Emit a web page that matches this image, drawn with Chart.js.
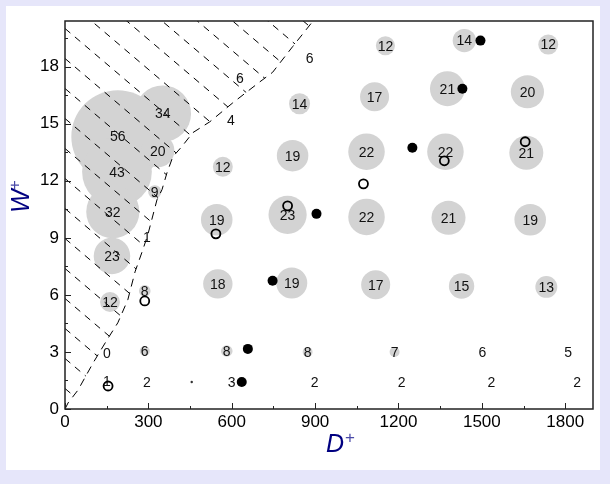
<!DOCTYPE html>
<html>
<head>
<meta charset="utf-8">
<script src="https://cdn.jsdelivr.net/npm/chart.js@4.4.1/dist/chart.umd.min.js"></script>
<style>
  html, body { margin: 0; padding: 0; background: lavender; }
  canvas { display: block; }
</style>
</head>
<body>
<canvas id="chart" width="610" height="484"></canvas>
<script>
// axis ticks
const xTicks = [0, 300, 600, 900, 1200, 1500, 1800];
const yTicks = [0, 3, 6, 9, 12, 15, 18];

// grey cells: position (D+, W+), printed count, bubble size
const cellD = [190, 187, 352, 334, 172, 169, 162, 323, 287, 629, 568, 819, 844, 1153, 1437, 1739, 1114, 1376, 1664, 1085,
    1369, 1660, 546, 801, 1085, 1380, 1674, 550, 816, 1118, 1427, 1732, 287, 582, 873, 1186, 880, 597, 295, 151,
    1502, 1811, 151, 295, 600, 898, 1211, 1534, 1843];
const cellW = [14.32, 12.47, 15.53, 13.58, 10.37, 8.05, 5.63, 11.42, 6.21, 17.42, 12.74, 13.32, 16.05, 19.1, 19.37, 19.16, 16.42, 16.84, 16.68, 13.53,
    13.53, 13.47, 9.95, 10.21, 10.1, 10.05, 9.95, 6.58, 6.63, 6.53, 6.47, 6.42, 3.05, 3.05, 3.0, 3.0, 18.47, 15.21, 9.05, 2.95,
    3.0, 3.0, 1.47, 1.42, 1.42, 1.42, 1.42, 1.42, 1.42];
const cellCount = [56, 43, 34, 20, 32, 23, 12, 9, 8, 6, 12, 19, 14, 12, 14, 12, 17, 21, 20, 22,
    22, 21, 19, 23, 22, 21, 19, 18, 19, 17, 15, 13, 6, 8, 8, 7, 6, 4, 1, 0,
    6, 5, 1, 2, 3, 2, 2, 2, 2];
const cellSize = [56, 42, 34, 20, 32, 22, 12, 8, 7, 2.5, 12, 19, 12.7, 11.5, 14, 12, 17.5, 21, 20, 22,
    22, 20.5, 19, 23, 22, 20.5, 19, 17.7, 18.7, 17.5, 15.3, 13.2, 6, 7, 6, 6, 0, 0, 0, 0,
    0, 0, 0, 0, 0, 0, 0, 0, 0];

// filled and open markers
const fullD = [1495, 1430, 1250, 905, 747, 658, 636];
const fullW = [19.37, 16.84, 13.74, 10.26, 6.74, 3.16, 1.42];
const openD = [1656, 1365, 1074, 801, 543, 287, 155];
const openW = [14.05, 13.05, 11.84, 10.68, 9.21, 5.68, 1.21];
const dotD = [456];
const dotW = [1.42];

// boundary of the hatched zone
const edgeD = [0, 11, 47, 101, 151, 190, 226, 252, 280, 298, 331, 349, 367, 388, 420, 460, 521, 604, 701, 747, 819, 891, 905];
const edgeW = [0, 0.32, 1.0, 2.42, 3.63, 4.53, 5.74, 7.21, 8.37, 9.16, 11.0, 11.53, 12.42, 13.26, 13.79, 14.53, 15.1, 16.1, 17.2, 17.7, 19.05, 20.37, 20.6];

const FONT = '"Liberation Sans", Arial, sans-serif';
const pts = (xs, ys) => xs.map((v, i) => ({ x: v, y: ys[i] }));

const cells = cellD.map((d, i) => ({ x: d, y: cellW[i], r: cellSize[i] * 0.83 }));

const decor = {
    id: 'decor',
    beforeDraw(chart) {
        const ctx = chart.ctx;
        ctx.save();
        ctx.fillStyle = 'lavender';
        ctx.fillRect(0, 0, chart.width, chart.height);
        ctx.fillStyle = '#fff';
        ctx.fillRect(6, 6, 594, 464);
        ctx.restore();
    },
    afterDatasetDraw(chart, args) {
        if (args.index !== 0) return;
        const { ctx, chartArea: a, scales: { x, y } } = chart;
        // hatching
        ctx.save();
        ctx.beginPath();
        ctx.rect(a.left, a.top, a.right - a.left, a.bottom - a.top);
        ctx.clip();
        ctx.beginPath();
        edgeD.forEach((d, i) => {
            const px = x.getPixelForValue(d), py = y.getPixelForValue(edgeW[i]);
            if (i === 0) ctx.moveTo(px, py); else ctx.lineTo(px, py);
        });
        ctx.lineTo(a.left, a.top - 10);
        ctx.closePath();
        ctx.clip();
        ctx.setLineDash([7, 6]);
        ctx.strokeStyle = '#000';
        ctx.lineWidth = 1;
        const slope = 0.85, len = 450;
        for (let c = a.top - len * slope; c < a.bottom; c += 30) {
            ctx.beginPath();
            ctx.moveTo(a.left, c);
            ctx.lineTo(a.left + len, c + len * slope);
            ctx.stroke();
        }
        ctx.restore();
        // counts
        ctx.save();
        ctx.font = '14px ' + FONT;
        ctx.fillStyle = '#111';
        ctx.textAlign = 'center';
        ctx.textBaseline = 'middle';
        cellD.forEach((d, i) => {
            ctx.fillText(String(cellCount[i]), x.getPixelForValue(d), y.getPixelForValue(cellW[i]) + 1);
        });
        ctx.restore();
    },
    afterDraw(chart) {
        const { ctx, chartArea: a, scales: { x, y } } = chart;
        ctx.save();
        ctx.strokeStyle = '#222';
        ctx.lineWidth = 1;
        ctx.beginPath();
        for (let v = 0; v <= 1900; v += 150) {
            const px = Math.round(x.getPixelForValue(v)) + 0.5;
            const l = v % 300 === 0 ? 6 : 3;
            ctx.moveTo(px, a.bottom);
            ctx.lineTo(px, a.bottom - l);
        }
        for (let v = 0; v <= 20.4; v += 1.5) {
            const py = Math.round(y.getPixelForValue(v)) + 0.5;
            const l = v % 3 === 0 ? 6 : 3;
            ctx.moveTo(a.left, py);
            ctx.lineTo(a.left + l, py);
        }
        ctx.stroke();
        ctx.lineWidth = 1.5;
        ctx.strokeRect(a.left, a.top, a.right - a.left, a.bottom - a.top);

        // axis titles
        ctx.textBaseline = 'alphabetic';
        ctx.textAlign = 'left';
        ctx.font = 'italic 25px ' + FONT;
        ctx.fillStyle = '#000080';
        ctx.fillText('D', 326, 452);
        ctx.font = '17px ' + FONT;
        ctx.fillStyle = '#4a4aa8';
        ctx.fillText('+', 345, 443);

        ctx.translate(29, 213);
        ctx.rotate(-Math.PI / 2);
        ctx.font = 'italic 25px ' + FONT;
        ctx.fillStyle = '#000080';
        ctx.fillText('W', 0, 0);
        ctx.font = '17px ' + FONT;
        ctx.fillStyle = '#4a4aa8';
        ctx.fillText('+', 23, -9);
        ctx.restore();
    }
};

new Chart(document.getElementById('chart'), {
    type: 'bubble',
    data: {
        datasets: [
            { type: 'bubble', data: cells, backgroundColor: '#d3d3d3', borderWidth: 0, order: 4 },
            { type: 'line', data: pts(edgeD, edgeW), borderColor: '#000', borderWidth: 1, borderDash: [8, 6],
                pointRadius: 0, tension: 0, fill: false, order: 3 },
            { type: 'scatter', data: pts(dotD, dotW), pointRadius: 1.2, backgroundColor: '#333', borderWidth: 0, order: 2 },
            { type: 'scatter', data: pts(fullD, fullW), pointRadius: 5, backgroundColor: '#000', borderWidth: 0, order: 1 },
            { type: 'scatter', data: pts(openD, openW), pointRadius: 4.5, backgroundColor: 'rgba(0,0,0,0)',
                borderColor: '#000', borderWidth: 1.8, order: 0 }
        ]
    },
    options: {
        responsive: false,
        animation: false,
        events: [],
        layout: { autoPadding: false, padding: { left: 0, right: 17, top: 21, bottom: 0 } },
        plugins: { legend: { display: false }, tooltip: { enabled: false } },
        scales: {
            x: {
                type: 'linear', min: 0, max: 1900,
                grid: { display: false, drawTicks: false },
                border: { display: false },
                ticks: { color: '#000', padding: 3, font: { family: FONT, size: 17 }, callback: v => String(v) },
                afterBuildTicks: s => { s.ticks = xTicks.map(v => ({ value: v })); },
                afterFit: s => { s.height = 75; }
            },
            y: {
                type: 'linear', min: 0, max: 20.4,
                grid: { display: false, drawTicks: false },
                border: { display: false },
                ticks: { color: '#000', padding: 6, font: { family: FONT, size: 17 }, callback: v => String(v) },
                afterBuildTicks: s => { s.ticks = yTicks.map(v => ({ value: v })); },
                afterFit: s => { s.width = 65; }
            }
        }
    },
    plugins: [decor]
});
</script>
</body>
</html>
